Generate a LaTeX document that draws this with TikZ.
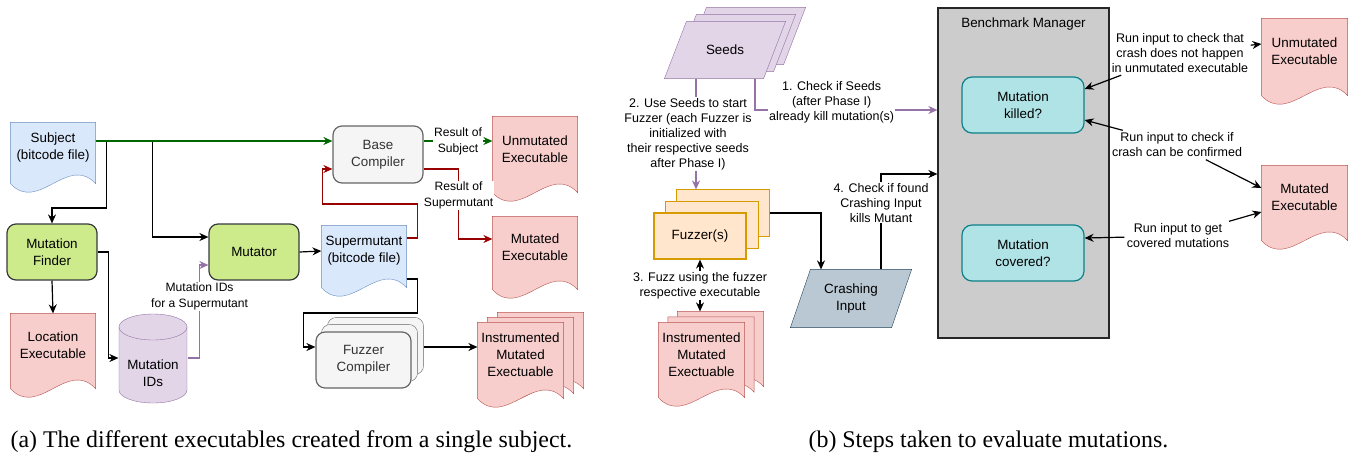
\documentclass[tikz,border=0pt]{standalone}
\usepackage{fontspec}
\setmainfont{Liberation Serif}
\setsansfont{Liberation Sans}
\usetikzlibrary{arrows.meta, positioning, calc, backgrounds}

\definecolor{subjblue}{HTML}{DAE8FC}
\definecolor{subjedge}{HTML}{6C8EBF}
\definecolor{exered}{HTML}{F8CECC}
\definecolor{exeedge}{HTML}{B85450}
\definecolor{toolgreen}{HTML}{CDEB8B}
\definecolor{tooledge}{HTML}{36393D}
\definecolor{compgrey}{HTML}{F5F5F5}
\definecolor{compedge}{HTML}{666666}
\definecolor{comptext}{HTML}{333333}
\definecolor{idpurple}{HTML}{E1D5E7}
\definecolor{idedge}{HTML}{9673A6}
\definecolor{fuzzorange}{HTML}{FFE6CC}
\definecolor{fuzzedge}{HTML}{D79B00}
\definecolor{crashslate}{HTML}{BAC8D3}
\definecolor{crashedge}{HTML}{23445D}
\definecolor{checkteal}{HTML}{B0E3E6}
\definecolor{checkedge}{HTML}{0E8088}
\definecolor{benchgrey}{HTML}{CCCCCC}
\definecolor{subjline}{HTML}{006600}
\definecolor{supline}{HTML}{990000}

% document outline (wavy bottom) around a node, shifted by (#2,#3)
\newcommand{\docpath}[3]{($(#1.north west)+(#2,#3)$) -- ($(#1.north east)+(#2,#3)$)
  -- ($(#1.south east)+(#2,#3+11)$) .. controls +(-28,-30) and +(28,30) .. ($(#1.south west)+(#2,#3+11)$) -- cycle}
% parallelogram around a node, shifted by (#2,#3), slant #4
\newcommand{\parapath}[4]{($(#1.south west)+(#2,#3)$) -- ($(#1.north west)+(#2+#4,#3)$)
  -- ($(#1.north east)+(#2,#3)$) -- ($(#1.south east)+(#2-#4,#3)$) -- cycle}

\begin{document}
\begin{tikzpicture}[x=1pt, y=-1pt, line width=1.2pt, >={Stealth[length=9pt,width=8pt]},
  mainf/.style={font=\sffamily\fontsize{13.4}{17}\selectfont, align=center},
  edgef/.style={font=\sffamily\fontsize{12.1}{16}\selectfont, fill=white, text=black, inner sep=1pt, align=center},
  stepf/.style={font=\sffamily\fontsize{12.5}{15}\selectfont, fill=white, text=black, inner sep=1pt, align=center},
  tool/.style={mainf, draw=tooledge, fill=toolgreen, rounded corners=9pt, minimum width=90pt, minimum height=56pt},
  comp/.style={mainf, draw=compedge, fill=compgrey, text=comptext, rounded corners=9pt, minimum height=56pt},
  check/.style={mainf, draw=checkedge, fill=checkteal, rounded corners=10pt, minimum width=122pt, minimum height=56pt},
  docu/.style={mainf, minimum width=84pt, inner sep=0pt},
  docb/.style={draw=subjedge, fill=subjblue},
  docr/.style={draw=exeedge, fill=exered},
  capt/.style={font=\fontsize{23.9}{28}\selectfont, inner sep=0pt, anchor=base west}]

  \useasboundingbox (0,0) rectangle (1351,459);

  % (a) executables
  \node[docu, minimum height=49pt] (subj) at (53,147.5) {Subject\\(bitcode file)};
  \node[tool] (finder) at (52,252) {Mutation\\Finder};
  \node[docu, minimum height=63pt] (locexe) at (53,345.5) {Location\\Executable};
  \node[mainf, minimum width=68pt, inner sep=0pt] (ids) at (153,373) {Mutation\\IDs};
  \node[tool] (mutator) at (254,252) {Mutator};
  \node[docu, minimum height=50pt] (supm) at (364,251) {Supermutant\\(bitcode file)};
  \node[comp, minimum width=90pt, minimum height=57pt] (basec) at (378,154.5) {Base\\Compiler};
  \node[docu, minimum height=64pt] (unmutA) at (535,149) {Unmutated\\Executable};
  \node[docu, minimum height=61pt] (mutA) at (535,247.5) {Mutated\\Executable};
  \node[comp, minimum width=95pt] (fuzzc) at (363.5,360) {Fuzzer\\Compiler};
  \node[docu, minimum width=85pt, minimum height=64pt] (instrA) at (520.5,355) {Instrumented\\Mutated\\Exectuable};

  % (b) evaluation
  \node[mainf, minimum width=120pt, minimum height=56pt] (seeds) at (725,50) {Seeds};
  \node[mainf, draw=fuzzedge, fill=fuzzorange, minimum width=92pt, minimum height=46pt] (fuzz) at (700,236) {Fuzzer(s)};
  \node[mainf, minimum width=120pt, minimum height=57pt] (crash) at (851,298.5) {Crashing\\Input};
  \node[docu, minimum width=85pt, minimum height=63pt] (instrB) at (701.5,354.5) {Instrumented\\Mutated\\Exectuable};
  \node[draw=black!85, fill=benchgrey, minimum width=171pt, minimum height=330pt] (bench) at (1023.5,173) {};
  \node[mainf, below=6pt of bench.north] (benchtitle) {Benchmark Manager};
  \node[check] (killed) at (1023,105) {Mutation\\killed?};
  \node[check] (covered) at (1023,253) {Mutation\\covered?};
  \node[docu, minimum width=85pt, minimum height=65pt] (unmutB) at (1304.5,51.5) {Unmutated\\Executable};
  \node[docu, minimum width=85pt, minimum height=63pt] (mutB) at (1304.5,197.5) {Mutated\\Executable};
  \node[stepf, inner sep=2pt] (lk1) at (1180,53) {Run input to check that\\crash does not happen\\in unmutated executable};
  \node[stepf, inner sep=2pt] (lk2) at (1177,145) {Run input to check if\\crash can be confirmed};
  \node[stepf, inner sep=2pt] (lk3) at (1178,236) {Run input to get\\covered mutations};

  \begin{scope}[on background layer]
    \draw[docb] \docpath{subj}{0}{0};
    \draw[docb] \docpath{supm}{0}{0};
    \draw[docr] \docpath{locexe}{0}{0};
    \draw[docr] \docpath{unmutA}{0}{0};
    \draw[docr] \docpath{mutA}{0}{0};
    \draw[docr] \docpath{unmutB}{0}{0};
    \draw[docr] \docpath{mutB}{0}{0};
    \foreach \k in {2,1,0} \draw[docr] \docpath{instrA}{10*\k}{-5*\k};
    \foreach \k in {2,1,0} \draw[docr] \docpath{instrB}{9.5*\k}{-5.5*\k};
    \foreach \k in {2,1} \draw[draw=compedge, fill=compgrey, rounded corners=9pt]
      ($(fuzzc.south west)+(6*\k,-7*\k)$) rectangle ($(fuzzc.north east)+(6*\k,-7*\k)$);
    \foreach \k in {2,1} \draw[draw=fuzzedge, fill=fuzzorange]
      ($(fuzz.south west)+(11.5*\k,-11.5*\k)$) rectangle ($(fuzz.north east)+(11.5*\k,-11.5*\k)$);
    \foreach \k in {2,1,0} \draw[draw=idedge, fill=idpurple] \parapath{seeds}{10*\k}{-7*\k}{22};
    \draw[draw=crashedge, fill=crashslate] \parapath{crash}{0}{0}{20};
    % cylinder
    \draw[draw=idedge, fill=idpurple] ($(ids.center)+(-34,-46)$) -- ($(ids.center)+(-34,17)$)
      arc[start angle=180, end angle=360, x radius=34pt, y radius=13pt] -- ($(ids.center)+(34,-46)$)
      arc[start angle=0, end angle=180, x radius=34pt, y radius=13pt] -- cycle;
    \draw[draw=idedge] ($(ids.center)+(-34,-46)$) arc[start angle=180, end angle=360, x radius=34pt, y radius=13pt];
  \end{scope}

  % connectors (a)
  \draw[->] ([yshift=6.5pt]subj.east) -- ++(11,0) -- ++(0,67) -| (finder.north);
  \draw[->] ([yshift=6.5pt]subj.east) -- ++(57,0) |- ([yshift=15pt]mutator.west);
  \draw[->, subjline] ([yshift=6.5pt]subj.east) -- ([yshift=13.5pt]basec.west);
  \draw[->, subjline] ([yshift=13.5pt]basec.east) -- ([yshift=8pt]unmutA.west)
    node[edgef, midway] {Result of\\Subject};
  \draw[->] (finder.east) -- ++(11,0) |- ([yshift=15pt]ids.west);
  \draw[->] (finder.south) -- (locexe.north);
  \draw[->, idedge] ([yshift=15pt]ids.east) -- ++(12,0) |- ([yshift=-13pt]mutator.west)
    node[edgef, pos=0.33] {Mutation IDs\\for a Supermutant};
  \draw[->] (mutator.east) -- (supm.west);
  \draw[->, supline] ([yshift=13pt]supm.east) -- ++(11,0) -- ++(0,-34) -- ++(-95,0) |- ([yshift=-14.5pt]basec.west);
  \draw[->, supline] ([yshift=-14.5pt]basec.east) -- ++(35,0) |- ([yshift=8.5pt]mutA.west)
    node[edgef, pos=0.19] {Result of\\Supermutant};
  \draw[->] ([yshift=-28pt]supm.east) -- ++(11,0) -- ++(0,34) -- ++(-114,0) |- ([yshift=13pt]fuzzc.west);
  \draw[->] ($(fuzzc.east)+(12,-13)$) -- ([yshift=8pt]instrA.west);

  % connectors (b)
  \coordinate (seedsl) at ([xshift=-29pt]seeds.south);
  \coordinate (fuzztop) at ($(fuzz.north)+(0,-23)$);
  \coordinate (instrtop) at ($(fuzz.south |- instrB.north)+(0,-11)$);
  \draw[->, idedge] ([xshift=30pt]seeds.south) |- ([yshift=63pt]bench.west)
    node[stepf, pos=0.71, yshift=8pt] {1. Check if Seeds\\(after Phase I)\\already kill mutation(s)};
  \draw[->, idedge] (seedsl) -- (seedsl |- fuzztop)
    node[stepf, midway, xshift=-8pt] {2. Use Seeds to start\\Fuzzer (each Fuzzer is\\initialized with\\their respective seeds\\after Phase I)};
  \draw[<->] (fuzz.south) -- (instrtop) node[stepf, midway] {3. Fuzz using the fuzzer\\respective executable};
  \draw[->] ($(fuzz.east)+(23,-23)$) -| ([xshift=-30pt]crash.north);
  \draw[->] ([xshift=30pt]crash.north) |- ([yshift=-1pt]bench.west)
    node[stepf, pos=0.35] {4. Check if found\\Crashing Input\\kills Mutant};
  \draw[<-] ([yshift=16pt]killed.east) -- (lk1);
  \draw[->] (lk1) -- ([yshift=7.5pt]unmutB.west);
  \draw[<-] ([yshift=-15pt]killed.east) -- (lk2);
  \draw[->] (lk2) -- ([yshift=9.5pt]mutB.west);
  \draw[<-] ([yshift=15pt]covered.east) -- (lk3);
  \draw[->] (lk3) -- ([yshift=-14.5pt]mutB.west);

  % captions
  \node[capt] (capa) at (10,447) {(a) The different executables created from a single subject.};
  \node[capt] (capb) at (808,447) {(b) Steps taken to evaluate mutations.};
\end{tikzpicture}
\end{document}
